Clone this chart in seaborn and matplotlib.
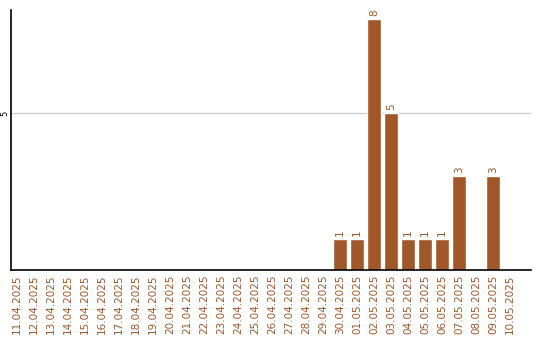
import matplotlib
matplotlib.use("Agg")
import matplotlib.pyplot as plt
import seaborn as sns
import pandas as pd

dates = ["11.04.2025", "12.04.2025", "13.04.2025", "14.04.2025", "15.04.2025",
         "16.04.2025", "17.04.2025", "18.04.2025", "19.04.2025", "20.04.2025",
         "21.04.2025", "22.04.2025", "23.04.2025", "24.04.2025", "25.04.2025",
         "26.04.2025", "27.04.2025", "28.04.2025", "29.04.2025", "30.04.2025",
         "01.05.2025", "02.05.2025", "03.05.2025", "04.05.2025", "05.05.2025",
         "06.05.2025", "07.05.2025", "08.05.2025", "09.05.2025", "10.05.2025"]
values = [0, 0, 0, 0, 0, 0, 0, 0, 0, 0,
          0, 0, 0, 0, 0, 0, 0, 0, 0, 1,
          1, 8, 5, 1, 1, 1, 3, 0, 3, 0]
y_ticks = [5]

BROWN = "#A0582A"

sns.set_style("white")
plt.rcParams['font.family'] = ['DejaVu Sans']

df = pd.DataFrame({"date": dates, "value": values})

fig = plt.figure(figsize=(5.4, 3.4), dpi=100)
ax = fig.add_axes([10.5 / 540, 70 / 340, (531 - 10.5) / 540, 260 / 340])

sns.barplot(data=df, x="date", y="value", color=BROWN, saturation=1,
            width=0.82, ax=ax, order=dates)

labels = [str(v) if v else "" for v in values]
ax.bar_label(ax.containers[0], labels=labels, rotation=90, padding=2,
             color=BROWN, fontsize=7.5)

ax.set_xlim(-0.38, 30.24)
ax.set_ylim(0, 8.28)
ax.set_yticks(y_ticks)
ax.set_yticklabels([str(t) for t in y_ticks], rotation=90, va="center",
                   fontsize=6, color="black")
ax.yaxis.grid(True, color="#cccccc", linewidth=0.9)
ax.set_axisbelow(True)
ax.tick_params(axis="both", length=0)
ax.tick_params(axis="y", pad=0.5)
ax.tick_params(axis="x", pad=3, labelrotation=90, labelsize=7.5, labelcolor=BROWN)
for lab in ax.get_xticklabels():
    lab.set_va("top")
ax.set_xlabel("")
ax.set_ylabel("")
for s in ["top", "right"]:
    ax.spines[s].set_visible(False)
for s in ["left", "bottom"]:
    ax.spines[s].set_color("black")
    ax.spines[s].set_linewidth(1.2)

fig.savefig("out.png", dpi=100)
